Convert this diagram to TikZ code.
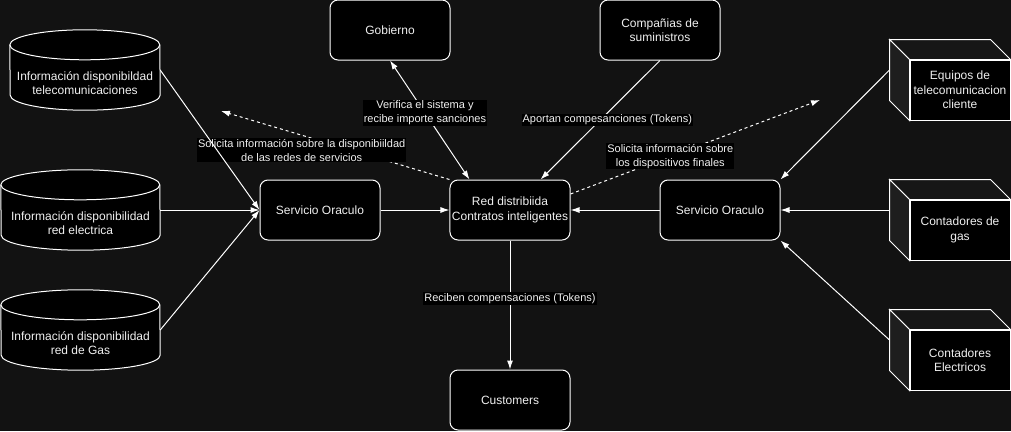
\documentclass[tikz,border=0pt]{standalone}
\usepackage{fontspec}
\setmainfont{Liberation Sans}
\usetikzlibrary{calc,arrows.meta}
\definecolor{bg}{RGB}{18,18,18}
\definecolor{cubetop}{RGB}{22,22,22}
\definecolor{cubeside}{RGB}{30,30,30}
\definecolor{txt}{RGB}{240,240,240}

\begin{document}
\begin{tikzpicture}[
  x=1pt, y=-1pt,
  >={Latex[length=9pt,width=6pt]},
  every node/.style={text=txt, font=\fontsize{12}{14.5}\selectfont, align=center},
  box/.style={draw=white, fill=black, rounded corners=8pt, minimum width=120, minimum height=60, inner sep=2pt, line width=1pt},
  cylbox/.style={minimum width=#1, minimum height=80, inner sep=0pt},
  cyl/.style={draw=white, fill=black, line width=1pt},
  front/.style={draw=white, fill=black, minimum width=100, minimum height=60, inner sep=0pt, line width=1pt},
  cubetopst/.style={draw=white, fill=cubetop, line width=1pt},
  cubesidest/.style={draw=white, fill=cubeside, line width=1pt},
  lbl/.style={fill=black, font=\fontsize{11}{13.5}\selectfont, inner sep=1pt},
  conn/.style={draw=white, line width=1pt, ->}]
  \useasboundingbox (0,0) rectangle (1011,431);
  \fill[bg] (0,0) rectangle (1011,431);

  % rounded boxes
  \node[box] (gob) at (390,30) {Gobierno};
  \node[box] (comp) at (660,30) {Compañias de\\suministros};
  \node[box] (ocl) at (320,210) {Servicio Oraculo};
  \node[box] (red) at (510,210) {Red distribiida\\Contratos inteligentes};
  \node[box] (ocr) at (720,210) {Servicio Oraculo};
  \node[box] (cust) at (510,400) {Customers};

  % data stores
  \foreach \n/\x/\y/\w/\lab in {inf1/85/70/150/{Información disponibildad\\telecomunicaciones},
      inf2/80.5/210/159/{Información disponibilidad\\red electrica},
      inf3/80.5/330/159/{Información disponibilidad\\red de Gas}} {
    \node[cylbox=\w] (\n) at (\x,\y) {};
    \filldraw[cyl] ($(\n.north west)+(0,15)$) arc[start angle=180, end angle=360, x radius=\w/2, y radius=15]
      -- ($(\n.south east)+(0,-15)$) arc[start angle=0, end angle=180, x radius=\w/2, y radius=15] -- cycle;
    \draw[cyl, fill=none] ($(\n.north west)+(0,15)$) arc[start angle=180, end angle=0, x radius=\w/2, y radius=15];
    \node (\n-t) at ($(\n)+(0,13)$) {\lab};
  }

  % end devices
  \foreach \n/\y/\lab in {equ/90/{Equipos de\\telecomunicacion\\cliente},
      gas/230/{Contadores de\\gas},
      ele/360/{Contadores\\Electricos}} {
    \node[front] (\n) at (960,\y) {\lab};
    \filldraw[cubetopst] ($(\n.north west)+(-20,-20)$) -- ($(\n.north east)+(-20,-20)$) -- (\n.north east) -- (\n.north west) -- cycle;
    \filldraw[cubesidest] ($(\n.north west)+(-20,-20)$) -- (\n.north west) -- (\n.south west) -- ($(\n.south west)+(-20,-20)$) -- cycle;
    \coordinate (\n-l) at ($(\n.west)+(-20,-20)$);
  }

  \coordinate (q1) at (221,111);
  \coordinate (q2) at (820,100);
  \draw[conn, dash pattern=on 3pt off 3pt] (red.north west) -- (q1)
    node[lbl, pos=0.66, yshift=-16pt, xshift=3pt] {Solicita información sobre la disponibiildad\\de las redes de servicios};
  \draw[conn, dash pattern=on 3pt off 3pt] ($(red.east)+(0,-16)$) -- (q2)
    node[lbl, pos=0.4] {Solicita información sobre\\los dispositivos finales};

  \draw[conn] (inf1.east) -- (ocl.west);
  \draw[conn] (inf2.east) -- (ocl.west);
  \draw[conn] (inf3.east) -- (ocl.west);
  \draw[conn] (ocl) -- (red);
  \draw[conn, <->] (gob.south) -- ($(red.north west)+(20,0)$)
    node[lbl, pos=0.44] {Verifica el sistema y\\recibe importe sanciones};
  \draw[conn] (comp.south) -- ($(red.north east)+(-30,0)$)
    node[lbl, pos=0.5, xshift=7pt] {Aportan compesanciones (Tokens)};
  \draw[conn] (red) -- (cust) node[lbl, pos=0.45] {Reciben compensaciones (Tokens)};
  \draw[conn] (ocr) -- (red);
  \draw[conn] (equ-l) -- (ocr.north east);
  \draw[conn] (gas-l) -- (ocr.east);
  \draw[conn] (ele-l) -- (ocr.south east);
\end{tikzpicture}
\end{document}
